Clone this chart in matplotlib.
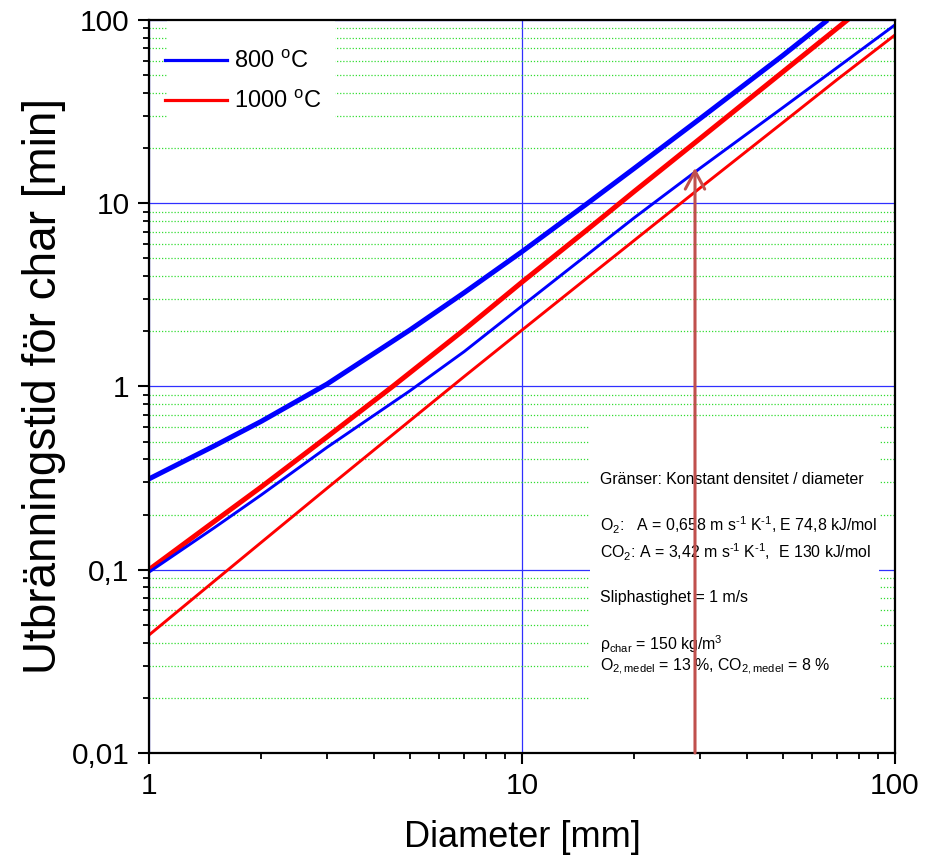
import matplotlib
matplotlib.use("Agg")
import matplotlib.pyplot as plt
from matplotlib.patches import Rectangle
from matplotlib.lines import Line2D
from matplotlib.ticker import LogLocator, NullFormatter, FixedLocator, FixedFormatter

plt.rcParams['font.family'] = ['Liberation Sans', 'DejaVu Sans']
plt.rcParams['mathtext.fontset'] = 'custom'
plt.rcParams['mathtext.rm'] = 'Liberation Sans'
plt.rcParams['mathtext.it'] = 'Liberation Sans:italic'
plt.rcParams['mathtext.bf'] = 'Liberation Sans:bold'

# ---- data ----
thick_blue_d = [1, 1.5, 2, 3, 5, 7, 10, 15, 20, 30, 50, 66]
thick_blue_t = [0.313, 0.475, 0.645, 1.03, 2.03, 3.25, 5.44, 10.0, 15.5, 28.9, 63.9, 100]

thick_red_d = [1, 1.5, 2, 3, 4.5, 7, 10, 15, 20, 30, 50, 75]
thick_red_t = [0.100, 0.184, 0.283, 0.53, 1.0, 2.04, 3.71, 7.2, 11.6, 22.5, 52, 101]

thin_blue_d = [1, 1.5, 2, 3, 5, 7, 10, 15, 20, 30, 50, 70, 100]
thin_blue_t = [0.097, 0.170, 0.256, 0.465, 0.945, 1.55, 2.75, 5.26, 8.33, 15.5, 33.2, 55, 94]

thin_red_d = [1, 1.5, 2, 3, 5, 7, 10, 15, 20, 30, 50, 70, 100]
thin_red_t = [0.044, 0.087, 0.141, 0.278, 0.649, 1.133, 2.03, 3.93, 6.27, 12.1, 27.5, 47.3, 82.8]

legend_labels = ['800 $^\\mathregular{o}$C', '1000 $^\\mathregular{o}$C']

arrow_d = 29.1
arrow_tip_t = 15.6

x_ticks = [1, 10, 100]
x_tick_labels = ['1', '10', '100']
y_ticks = [0.01, 0.1, 1, 10, 100]
y_tick_labels = ['0,01', '0,1', '1', '10', '100']

info_lines = [
    'Gränser: Konstant densitet / diameter',
    'O$_\\mathregular{2}$:   A = 0,658 m s$^\\mathregular{\u20101}$ K$^\\mathregular{\u20101}$, E 74,8 kJ/mol',
    'CO$_\\mathregular{2}$: A = 3,42 m s$^\\mathregular{\u20101}$ K$^\\mathregular{\u20101}$,  E 130 kJ/mol',
    'Sliphastighet = 1 m/s',
    'ρ$_\\mathregular{char}$ = 150 kg/m$^\\mathregular{3}$',
    'O$_\\mathregular{2,medel}$ = 13 %, CO$_\\mathregular{2,medel}$ = 8 %',
]
info_y = [0.367, 0.302, 0.2656, 0.2064, 0.1405, 0.1123]

# ---- figure ----
fig = plt.figure(figsize=(9.31, 8.64), dpi=100)
ax = fig.add_axes([0.160, 0.1285, 0.8013, 0.8484])
ax.set_xscale('log')
ax.set_yscale('log')
ax.set_xlim(1, 100)
ax.set_ylim(0.01, 100)

blue = '#0000ff'
red = '#ff0000'
ax.plot(thick_blue_d, thick_blue_t, color=blue, lw=3.6, zorder=3, solid_capstyle='butt')
ax.plot(thick_red_d, thick_red_t, color=red, lw=3.6, zorder=3, solid_capstyle='butt')
ax.plot(thin_blue_d, thin_blue_t, color=blue, lw=2.1, zorder=3, solid_capstyle='butt')
ax.plot(thin_red_d, thin_red_t, color=red, lw=2.1, zorder=3, solid_capstyle='butt')

# grids
ax.set_axisbelow(True)
ax.xaxis.grid(True, which='major', color='#3030ff', lw=0.9)
ax.yaxis.grid(True, which='major', color='#3030ff', lw=0.9)
ax.yaxis.grid(True, which='minor', color='#33dd33', lw=0.9, linestyle=(0, (1, 1.5)))

# white backgrounds for legend and info box
ax.add_patch(Rectangle((0.024, 0.857), 0.225, 0.143, transform=ax.transAxes,
                       facecolor='white', edgecolor='none', zorder=1))
ax.add_patch(Rectangle((0.591, 0.05), 0.388, 0.405, transform=ax.transAxes,
                       facecolor='white', edgecolor='none', zorder=1))

# ticks
ax.xaxis.set_major_locator(FixedLocator(x_ticks))
ax.xaxis.set_major_formatter(FixedFormatter(x_tick_labels))
ax.yaxis.set_major_locator(FixedLocator(y_ticks))
ax.yaxis.set_major_formatter(FixedFormatter(y_tick_labels))
ax.xaxis.set_minor_locator(LogLocator(base=10, subs=range(2, 10)))
ax.yaxis.set_minor_locator(LogLocator(base=10, subs=range(2, 10)))
ax.xaxis.set_minor_formatter(NullFormatter())
ax.yaxis.set_minor_formatter(NullFormatter())
ax.tick_params(which='major', direction='out', length=8, width=1.5, labelsize=21.5, pad=6,
               top=False, right=False)
ax.tick_params(which='minor', direction='out', length=4.5, width=1.3, top=False, right=False)
for s in ax.spines.values():
    s.set_linewidth(1.6)
    s.set_zorder(5)

ax.set_xlabel('Diameter [mm]', fontsize=26, labelpad=14)
ax.set_ylabel('Utbränningstid för char [min]', fontsize=33, labelpad=4)

# legend
handles = [Line2D([], [], color=blue, lw=2.3), Line2D([], [], color=red, lw=2.3)]
ax.legend(handles, legend_labels, loc='upper left', bbox_to_anchor=(0.0214, 0.958),
          frameon=False, fontsize=17, handlelength=2.65, handletextpad=0.27,
          labelspacing=0.75, borderpad=0, borderaxespad=0)

# info text
for line, yy in zip(info_lines, info_y):
    ax.text(0.6046, yy, line, transform=ax.transAxes, fontsize=11.4, va='baseline',
            ha='left', zorder=4)

# arrow
ax.annotate('', xy=(arrow_d, arrow_tip_t), xytext=(arrow_d, 0.01),
            arrowprops=dict(arrowstyle='->,head_length=1.3,head_width=0.7',
                            color='#c0504d', lw=2.2, mutation_scale=10,
                            shrinkA=0, shrinkB=0),
            zorder=6, annotation_clip=False)

fig.savefig('out.png', dpi=100)
